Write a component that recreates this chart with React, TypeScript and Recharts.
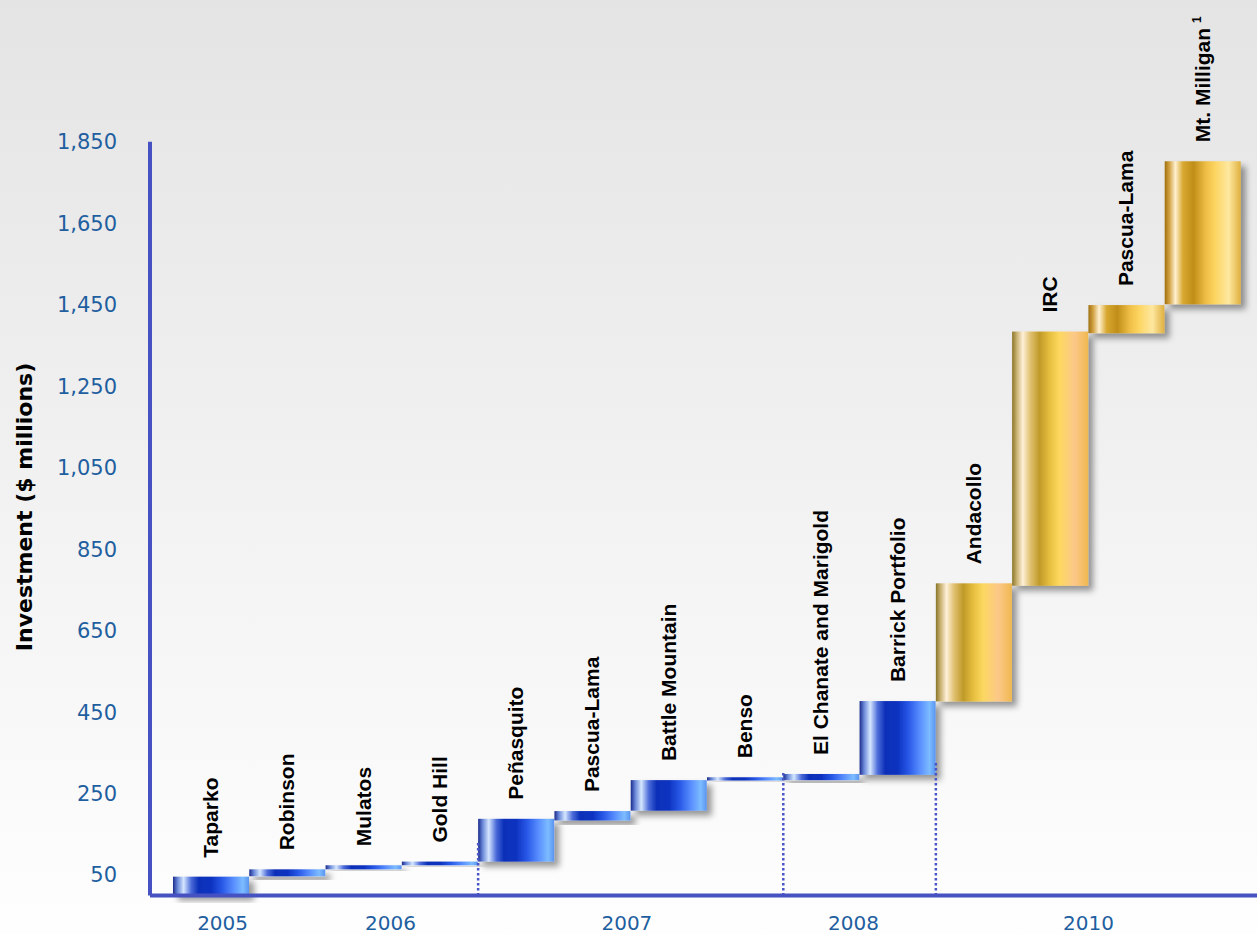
import React from 'react';
import { ComposedChart, Bar, XAxis, YAxis, ReferenceLine, Label } from 'recharts';

// Project names (one bar per acquisition, in order)
const categories = [
  'Taparko', 'Robinson', 'Mulatos', 'Gold Hill', 'Peñasquito', 'Pascua-Lama',
  'Battle Mountain', 'Benso', 'El Chanate and Marigold', 'Barrick Portfolio',
  'Andacollo', 'IRC', 'Pascua-Lama', 'Mt. Milligan',
];
const footnotes = ['', '', '', '', '', '', '', '', '', '', '', '', '', '1'];
// Cumulative investment ($ millions): bottom and top of each waterfall step
const lows = [0, 47, 64, 74, 83, 184, 208, 282, 283, 296, 476, 760, 1380, 1451];
const highs = [46, 64, 74, 83, 188, 207, 283, 290, 298, 477, 766, 1384, 1449, 1802];
// Year of each step
const years = ['2005', '2006', '2006', '2006', '2007', '2007', '2007', '2007', '2008', '2008', '2010', '2010', '2010', '2010'];

const yTicks = [50, 250, 450, 650, 850, 1050, 1250, 1450, 1650, 1850];
const yearLabels = ['2005', '2006', '2007', '2008', '2010'];
const yearTickPos = [0.65, 2.85, 5.95, 8.92, 12.0];
// Dotted year separators: [bar-index boundary, top value]
const separators: [number, number][] = [[4, 130], [8, 304], [10, 330]];

const data = categories.map((name, i) => ({
  name, pos: i + 0.5, range: [lows[i], highs[i]], year: years[i], note: footnotes[i],
}));

const AXIS = '#4652c2';
const TICK = '#1f5f9f';

const BarShape = (props: any) => {
  const { x, y, width, height, index, payload } = props;
  let fillId = 'blueGrad';
  if (payload.year === '2010') fillId = index >= 12 ? 'goldB' : 'goldA';
  const cx = x + width / 2;
  const ty = y - 19;
  return (
    <g>
      <rect x={x} y={y} width={width} height={Math.max(height, 1)} fill={`url(#${fillId})`} filter="url(#shadow)" />
      <text
        transform={`translate(${cx + 7}, ${ty}) rotate(-90)`}
        textAnchor="start"
        fontFamily="'Liberation Sans', Arial, sans-serif"
        fontWeight={700}
        fontSize={21}
        fill="#000"
      >
        {payload.name}
        {payload.note ? <tspan dx={5} dy={-9} fontSize={12}>{payload.note}</tspan> : null}
      </text>
    </g>
  );
};

export default function App() {
  return (
    <div
      style={{
        position: 'absolute', left: 0, top: 0, width: 1257, height: 934,
        background: 'linear-gradient(#e4e4e4, #fefefe)',
      }}
    >
      <ComposedChart
        width={1257}
        height={934}
        data={data}
        margin={{ top: 141.7, right: 0, bottom: 0, left: 0 }}
        barCategoryGap={0}
        barGap={0}
      >
        <defs>
          <linearGradient id="blueGrad" x1="0" y1="0" x2="1" y2="0">
            <stop offset="0%" stopColor="#1a2a8c" />
            <stop offset="6%" stopColor="#6a88d8" />
            <stop offset="14%" stopColor="#d4e6ff" />
            <stop offset="24%" stopColor="#4a6ad8" />
            <stop offset="34%" stopColor="#0a2fb8" />
            <stop offset="50%" stopColor="#0c32c0" />
            <stop offset="65%" stopColor="#2a5ae8" />
            <stop offset="80%" stopColor="#5a90ff" />
            <stop offset="92%" stopColor="#7cbcff" />
            <stop offset="100%" stopColor="#5a94f0" />
          </linearGradient>
          <linearGradient id="goldA" x1="0" y1="0" x2="1" y2="0">
            <stop offset="0%" stopColor="#8a7428" />
            <stop offset="6%" stopColor="#c8b070" />
            <stop offset="14%" stopColor="#fff0d8" />
            <stop offset="24%" stopColor="#e0c070" />
            <stop offset="36%" stopColor="#c09a28" />
            <stop offset="50%" stopColor="#e8c040" />
            <stop offset="62%" stopColor="#fcd860" />
            <stop offset="82%" stopColor="#fcc888" />
            <stop offset="100%" stopColor="#f0b850" />
          </linearGradient>
          <linearGradient id="goldB" x1="0" y1="0" x2="1" y2="0">
            <stop offset="0%" stopColor="#a07010" />
            <stop offset="6%" stopColor="#d0a040" />
            <stop offset="14%" stopColor="#fff0d0" />
            <stop offset="24%" stopColor="#d8a830" />
            <stop offset="38%" stopColor="#c08e18" />
            <stop offset="55%" stopColor="#f0c048" />
            <stop offset="66%" stopColor="#fcd460" />
            <stop offset="84%" stopColor="#fee8a0" />
            <stop offset="100%" stopColor="#e0b040" />
          </linearGradient>
          <filter id="shadow" x="-10%" y="-10%" width="130%" height="150%">
            <feDropShadow dx="5" dy="5" stdDeviation="3" floodColor="#000" floodOpacity="0.4" />
          </filter>
        </defs>
        <XAxis xAxisId="cat" dataKey="name" hide height={0} padding={{ left: 23, right: 16 }} />
        <XAxis
          xAxisId="yr"
          dataKey="pos"
          type="number"
          domain={[0, 14]}
          allowDataOverflow
          ticks={yearTickPos}
          interval={0}
          tickFormatter={(v: number) => yearLabels[yearTickPos.indexOf(v)] ?? ''}
          padding={{ left: 23, right: 16 }}
          axisLine={{ stroke: AXIS, strokeWidth: 4 }}
          tickLine={false}
          tickSize={6}
          tickMargin={14}
          height={38.6}
          tick={{ fill: TICK, fontSize: 20, fontFamily: "'DejaVu Sans', Verdana, sans-serif" }}
        />
        <YAxis
          domain={[0, 1850]}
          ticks={yTicks}
          interval={0}
          tickFormatter={(v: number) => v.toLocaleString('en-US')}
          width={150}
          axisLine={{ stroke: AXIS, strokeWidth: 4 }}
          tickLine={false}
          tickSize={6}
          tickMargin={27}
          tick={{ fill: TICK, fontSize: 21, fontFamily: "'DejaVu Sans', Verdana, sans-serif" }}
        >
          <Label
            value="Investment ($ millions)"
            content={(p: any) => (
              <text
                x={24}
                y={507}
                transform="rotate(-90 24 507)"
                textAnchor="middle"
                dominantBaseline="central"
                fontFamily="'DejaVu Sans', Verdana, sans-serif"
                fontWeight={700}
                fontSize={22}
                fill="#000"
              >
                {p.value}
              </text>
            )}
          />
        </YAxis>
        <Bar xAxisId="cat" dataKey="range" shape={BarShape} isAnimationActive={false} />
        {separators.map(([pos, top], i) => (
          <ReferenceLine
            key={i}
            xAxisId="yr"
            segment={[{ x: pos, y: 0 }, { x: pos, y: top }]}
            stroke="#4a56c8"
            strokeWidth={2.5}
            strokeDasharray="2.5 2.5"
          />
        ))}
      </ComposedChart>
    </div>
  );
}
